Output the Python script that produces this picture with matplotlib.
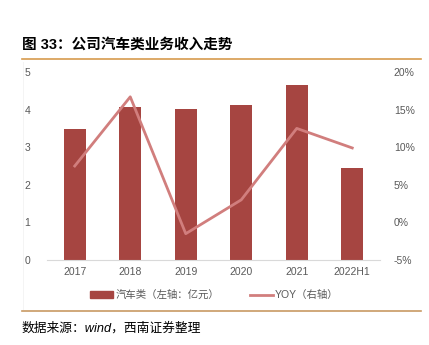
import numpy as np
import matplotlib.pyplot as plt
from matplotlib.lines import Line2D
from matplotlib.patches import Patch

plt.rcParams['font.family'] = ['Liberation Sans', 'Noto Sans CJK SC']

# data
years = ['2017', '2018', '2019', '2020', '2021', '2022H1']
revenue = [3.48, 4.08, 4.01, 4.12, 4.65, 2.46]      # 亿元
yoy = [7.5, 16.7, -1.5, 3.0, 12.5, 9.9]             # %

bar_color = '#A64541'
line_color = '#D17E7D'
grey = '#595959'

fig = plt.figure(figsize=(4.29, 3.45), dpi=100)
ax = fig.add_axes([47/429, 1 - 260/345, 333/429, 188/345])
x = np.arange(len(years))
ax.bar(x, revenue, width=0.4, color=bar_color, zorder=2)
ax.set_xlim(-0.5, len(years) - 0.5)
ax.set_ylim(0, 5)
ax.set_yticks(range(0, 6))
ax.set_xticks(x)
ax.set_xticklabels(years)

ax2 = ax.twinx()
ax2.plot(x, yoy, color=line_color, lw=2, zorder=3)
ax2.set_ylim(-5, 20)
ax2.set_yticks(range(-5, 21, 5))
ax2.set_yticklabels([f'{v}%' for v in range(-5, 21, 5)])

for a in (ax, ax2):
    for s in a.spines.values():
        s.set_visible(False)
    a.tick_params(length=0, labelsize=7.5, labelcolor=grey)
ax.tick_params(axis='y', pad=12)
ax2.tick_params(axis='y', pad=10)
ax.tick_params(axis='x', pad=5)
ax.spines['bottom'].set_visible(True)
ax.spines['bottom'].set_color('#D9D9D9')

handles = [Patch(color=bar_color), Line2D([], [], color=line_color, lw=2)]
labels = ['汽车类（左轴：亿元）', 'YOY（右轴）']
fig.legend(handles, labels, loc='center', bbox_to_anchor=(0.5, 1 - 295/345),
           ncol=2, frameon=False, fontsize=7.5, labelcolor=grey,
           handlelength=2.2, handleheight=0.6, columnspacing=3, handletextpad=0.2)

# header / footer
fig.text(22/429, 1 - 45/345, '图 33：公司汽车类业务收入走势', fontsize=10.5,
         fontweight='bold', va='center', color='black')
fig.add_artist(Line2D([22/429, 421/429], [1 - 59/345] * 2, color='#D79B4E', lw=1.2))
fig.add_artist(Line2D([22/429, 421/429], [1 - 311/345] * 2, color='#C89A63', lw=1.2))
fig.add_artist(Line2D([23/429, 23/429], [1 - 62/345, 1 - 309/345], color='#F2F2F2', lw=0.6))
fig.text(22/429, 1 - 328/345, '数据来源：wind，西南证券整理', fontsize=9.2,
         style='italic', va='center', color='black')

fig.savefig('out.png', dpi=100)
